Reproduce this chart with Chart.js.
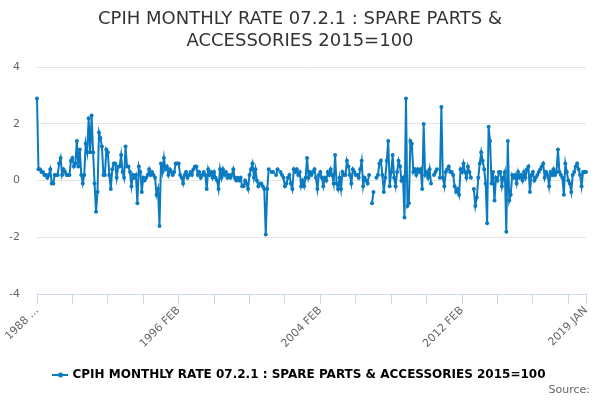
<!DOCTYPE html>
<html><head><meta charset="utf-8">
<script src="https://cdn.jsdelivr.net/npm/chart.js@4/dist/chart.umd.min.js"></script>
<style>html,body{margin:0;padding:0;background:#fff}</style>
</head><body>
<canvas id="c" width="600" height="400" style="width:600px;height:400px"></canvas>
<script>
// ---- text ----
const titleLines = ['CPIH MONTHLY RATE 07.2.1 : SPARE PARTS &', 'ACCESSORIES 2015=100'];
const seriesName = 'CPIH MONTHLY RATE 07.2.1 : SPARE PARTS & ACCESSORIES 2015=100';
const sourceText = 'Source:';
// ---- categories ----
const monthNames = ['JAN','FEB','MAR','APR','MAY','JUN','JUL','AUG','SEP','OCT','NOV','DEC'];
const firstYear = 1988;
const monthCount = 373; // 1988 JAN .. 2019 JAN
const tickEvery = 24;
const tickTexts = {0: '1988 ...', 96: '1996 FEB', 192: '2004 FEB', 288: '2012 FEB', 372: '2019 JAN'};
const yTickValues = [-4, -2, 0, 2, 4];
// ---- series values (monthly rate, %) ----
const v1988_1991 = [
  2.9, 0.4, 0.4, 0.3, 0.3, 0.2, 0.2, 0.1, 0.2, 0.4, -0.1, -0.1,
  0.2, 0.2, 0.2, 0.6, 0.8, 0.2, 0.4, 0.3, 0.2, 0.2, 0.2, 0.7,
  0.8, 0.5, 0.6, 1.4, 0.5, 1.1, 0.2, -0.1, 0.2, 1.3, 1.0, 2.2,
  1.0, 2.3, 1.0, -0.1, -1.1, -0.4, 1.7, 1.5, 1.2, 0.2, 0.2, 1.1];
const v1992_1995 = [
  1.0, 0.2, -0.3, 0.4, 0.6, 0.6, 0.1, 0.5, 0.5, 0.9, 0.3, 0.1,
  1.2, 0.5, 0.5, 0.3, -0.2, 0.2, 0.1, 0.2, -0.8, 0.5, 0.3, -0.4,
  0.1, 0.0, 0.1, 0.2, 0.4, 0.2, 0.3, 0.2, 0.1, -0.5, -0.3, -1.6,
  0.6, 0.3, 0.8, 0.4, 0.5, 0.2, 0.4, 0.3, 0.2, 0.3, 0.6, 0.6];
const v1996_1999 = [
  0.6, 0.2, 0.1, -0.1, 0.2, 0.3, 0.1, 0.2, 0.3, 0.2, 0.4, 0.5,
  0.5, 0.2, 0.3, 0.1, 0.2, 0.3, 0.2, -0.3, 0.4, 0.2, 0.3, 0.1,
  0.3, 0.1, 0.0, -0.3, 0.4, 0.1, 0.4, 0.2, 0.3, 0.1, 0.2, 0.1,
  0.2, 0.4, 0.1, 0.0, 0.1, 0.0, 0.1, -0.2, -0.2, 0.0, -0.1, -0.3];
const v2000_2003 = [
  0.2, 0.4, 0.6, 0.1, 0.4, 0.0, -0.2, -0.1, -0.1, -0.2, -0.3, -1.9,
  -0.3, 0.4, null, 0.3, 0.3, null, 0.2, 0.4, null, 0.3, 0.2, 0.1,
  -0.2, -0.1, 0.1, 0.2, -0.1, -0.3, 0.4, 0.3, 0.4, 0.2, 0.3, -0.2,
  0.0, -0.2, 0.1, 0.8, 0.1, 0.3, 0.2, 0.3, 0.4, 0.1, -0.3, 0.2];
const v2004_2007 = [
  0.3, 0.1, -0.2, 0.1, 0.0, 0.3, 0.2, 0.4, 0.2, -0.1, 0.9, -0.1,
  -0.3, 0.1, -0.3, 0.3, 0.2, 0.2, 0.7, 0.5, 0.2, -0.1, 0.4, 0.3,
  0.2, 0.2, 0.1, 0.4, 0.7, -0.2, 0.1, 0.0, -0.1, 0.2, null, -0.8,
  -0.4, null, 0.1, 0.2, 0.6, 0.7, 0.2, -0.4, 0.1, 0.7, 1.4, -0.2];
const v2008_2011 = [
  0.3, 0.9, 0.1, -0.2, 0.3, 0.7, 0.5, 0.0, 0.1, -1.3, 2.9, -0.9,
  -0.8, 1.4, 1.3, 0.3, 0.4, 0.2, 0.4, 0.3, 0.4, -0.3, 2.0, 0.2,
  0.3, 0.1, 0.4, -0.1, null, 0.2, 0.3, 0.4, null, 0.1, 2.6, 0.1,
  -0.2, 0.3, 0.4, 0.5, 0.3, 0.3, 0.2, -0.2, -0.4, -0.3, -0.5, 0.4];
const v2012_2015 = [
  0.3, 0.6, 0.3, 0.1, 0.5, 0.3, 0.1, null, -0.3, -0.9, -0.6, 0.1,
  0.6, 1.0, 0.7, 0.4, -0.1, -1.5, 1.9, 1.4, -0.1, 0.3, -0.7, 0.1,
  0.0, 0.3, 0.3, -0.2, 0.1, 0.3, -1.8, 1.4, -0.7, -0.5, 0.2, 0.1,
  0.2, -0.1, 0.3, 0.1, 0.2, 0.0, 0.3, 0.1, 0.4, 0.5, -0.4, 0.2];
const v2016_2019 = [
  0.3, 0.0, 0.1, 0.2, 0.3, 0.4, 0.5, 0.6, 0.1, 0.3, 0.2, -0.2,
  0.3, 0.2, 0.4, 0.2, 0.3, 1.1, 0.3, 0.2, 0.1, -0.5, 0.6, 0.3,
  0.0, -0.1, -0.4, 0.2, 0.3, 0.5, 0.6, 0.4, 0.2, -0.2, 0.3, 0.3,
  0.3];

const values = [].concat(v1988_1991, v1992_1995, v1996_1999, v2000_2003,
                         v2004_2007, v2008_2011, v2012_2015, v2016_2019);
const categories = [];
for (let i = 0; i < monthCount; i++) {
  categories.push((firstYear + Math.floor(i / 12)) + ' ' + monthNames[i % 12]);
}

const lineColor = '#0b7bc1';
const FONT = "'DejaVu Sans', sans-serif";

// legend symbol: short line with a dot
const sym = document.createElement('canvas');
sym.width = 16; sym.height = 8;
(function(){
  const g = sym.getContext('2d');
  g.strokeStyle = lineColor; g.lineWidth = 2;
  g.beginPath(); g.moveTo(0, 4); g.lineTo(16, 4); g.stroke();
  g.fillStyle = lineColor; g.beginPath(); g.arc(8, 4, 2.5, 0, Math.PI * 2); g.fill();
})();

const sourcePlugin = {
  id: 'sourceNote',
  afterLayout(chart) {
    // centre title and legend on the full page width, as in the original
    [chart.titleBlock, chart.legend].forEach(b => {
      if (!b) return;
      const shift = 300 - (b.left + b.right) / 2;
      b.left += shift; b.right += shift;
    });
  },
  afterDraw(chart) {
    const ctx = chart.ctx;
    ctx.save();
    ctx.font = "11px " + FONT;
    ctx.fillStyle = '#666666';
    ctx.textAlign = 'right';
    ctx.textBaseline = 'middle';
    ctx.fillText(sourceText, 590, 390);
    ctx.restore();
  }
};

new Chart(document.getElementById('c'), {
  type: 'line',
  data: {
    labels: categories,
    datasets: [{
      label: seriesName,
      data: values,
      borderColor: lineColor,
      backgroundColor: lineColor,
      borderWidth: 2,
      pointRadius: 2,
      pointHoverRadius: 3,
      pointBorderWidth: 0,
      tension: 0,
      spanGaps: false
    }]
  },
  plugins: [sourcePlugin],
  options: {
    responsive: false,
    animation: false,
    layout: { padding: { left: 0, right: 14, top: 4, bottom: 9 } },
    plugins: {
      title: {
        display: true, text: titleLines, color: '#333333',
        font: { family: FONT, size: 18, weight: 'normal', lineHeight: 1.2 },
        padding: { top: 5, bottom: 15 }
      },
      legend: {
        position: 'bottom',
        labels: {
          color: '#333333',
          font: { family: FONT, size: 12, weight: 'bold' },
          usePointStyle: true,
          boxWidth: 16,
          padding: 4,
          generateLabels: (chart) => [{
            text: seriesName, pointStyle: sym, fillStyle: lineColor,
            strokeStyle: lineColor, lineWidth: 0, hidden: false, datasetIndex: 0
          }]
        }
      },
      tooltip: { enabled: false }
    },
    scales: {
      x: {
        type: 'category',
        grid: { display: true, drawOnChartArea: false, color: '#ccd6eb', tickLength: 10, lineWidth: 1 },
        border: { display: true, color: '#ccd6eb' },
        ticks: {
          autoSkip: false, maxRotation: 45, minRotation: 45, padding: 0,
          color: '#666666', font: { family: FONT, size: 11 },
          callback: function (val, idx) {
            if (idx in tickTexts) return tickTexts[idx];
            if (idx % tickEvery === 0) return '';
            return null;
          }
        },
        afterFit: (s) => { s.height = 71; }
      },
      y: {
        min: -4, max: 4,
        afterBuildTicks: (s) => { s.ticks = yTickValues.map(v => ({ value: v })); },
        grid: { color: '#e6e6e6', drawTicks: false },
        border: { display: false },
        ticks: { color: '#666666', font: { family: FONT, size: 11 }, padding: 17 },
        afterFit: (s) => { s.width = 37; }
      }
    }
  }
});
</script>
</body></html>
